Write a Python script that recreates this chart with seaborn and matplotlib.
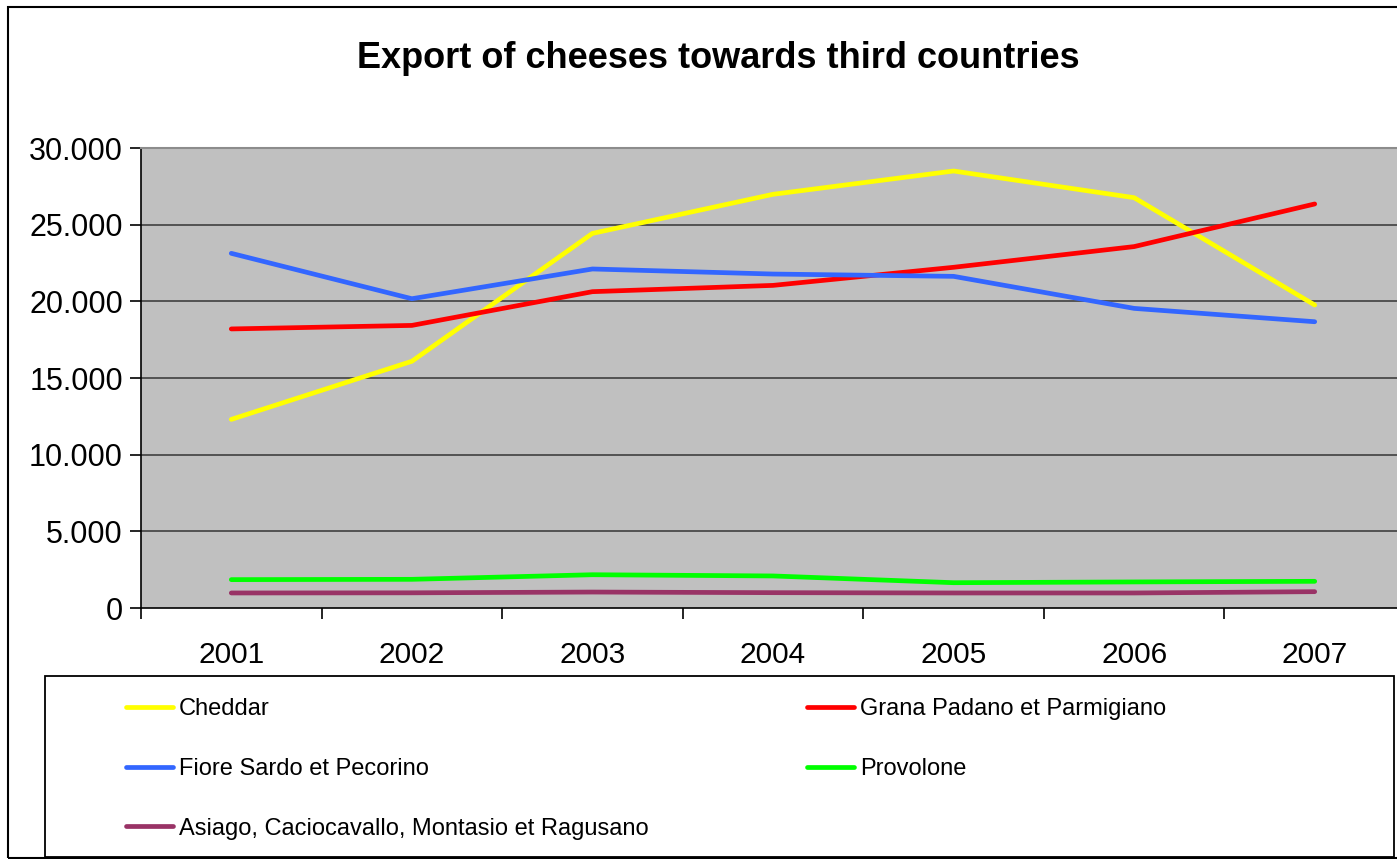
import matplotlib
matplotlib.use("Agg")
import matplotlib.pyplot as plt
import seaborn as sns
import pandas as pd
from matplotlib import font_manager
from matplotlib.lines import Line2D
from matplotlib.patches import Rectangle
from matplotlib.ticker import FuncFormatter, FixedLocator

# ---- data ----
years = ["2001", "2002", "2003", "2004", "2005", "2006", "2007"]
cheddar = [12300, 16090, 24430, 26980, 28500, 26760, 19760]
grana = [18200, 18430, 20630, 21040, 22220, 23570, 26350]
fiore = [23130, 20170, 22110, 21780, 21630, 19540, 18670]
provolone = [1850, 1870, 2170, 2090, 1650, 1700, 1740]
asiago = [980, 990, 1040, 1000, 980, 980, 1065]

series_names = ["Cheddar", "Grana Padano et Parmigiano", "Fiore Sardo et Pecorino",
                "Provolone", "Asiago, Caciocavallo, Montasio et Ragusano"]
series_values = [cheddar, grana, fiore, provolone, asiago]
colors = ["#FFFF00", "#FF0000", "#3366FF", "#00FF00", "#993366"]
title = "Export of cheeses towards third countries"

rows = []
for name, vals in zip(series_names, series_values):
    for i, (y, v) in enumerate(zip(years, vals)):
        rows.append({"idx": i, "year": y, "value": v, "series": name})
df = pd.DataFrame(rows)

sns.set_theme(style="white")
avail = {f.name for f in font_manager.fontManager.ttflist}
base = "Liberation Sans" if "Liberation Sans" in avail else "DejaVu Sans"
plt.rcParams["font.family"] = [base, "DejaVu Sans"]

W, H = 1397, 859
fig = plt.figure(figsize=(W / 100, H / 100), dpi=100)
fig.patch.set_facecolor("white")

# axes placement (pixel coords -> figure fractions)
left, right, top, bottom = 141, 1405, 148, 608
ax = fig.add_axes([left / W, 1 - bottom / H, (right - left) / W, (bottom - top) / H])
ax.set_facecolor("#C0C0C0")

LW = 3.4
sns.lineplot(data=df, x="idx", y="value", hue="series", hue_order=series_names,
             palette=dict(zip(series_names, colors)), linewidth=LW, ax=ax,
             legend=False, sort=False)
for ln in ax.get_lines():
    ln.set_solid_capstyle("round")
    ln.set_solid_joinstyle("round")

ax.set_xlim(-0.5, 6.5)
ax.set_ylim(0, 30000)
ax.set_xlabel("")
ax.set_ylabel("")

ax.yaxis.set_major_locator(FixedLocator([0, 5000, 10000, 15000, 20000, 25000, 30000]))
ax.yaxis.set_major_formatter(FuncFormatter(lambda v, p: f"{int(v):,}".replace(",", ".")))
ax.set_xticks(range(len(years)))
ax.set_xticklabels(years)
ax.set_xticks([i - 0.5 for i in range(len(years) + 1)], minor=True)

ax.tick_params(axis="x", which="major", length=0, pad=24, labelsize=21.5, colors="black")
ax.tick_params(axis="x", which="minor", length=8, width=1.2, color="black", direction="out")
ax.tick_params(axis="y", which="major", length=8, width=1.2, color="black",
               direction="out", labelsize=22, pad=5, colors="black")
ax.tick_params(left=True, bottom=True, which="both")

for y in [5000, 10000, 15000, 20000, 25000]:
    ax.axhline(y, color="#404040", lw=1.2, zorder=0.5)

ax.spines["left"].set_color("black")
ax.spines["left"].set_linewidth(1.2)
ax.spines["bottom"].set_color("black")
ax.spines["bottom"].set_linewidth(1.2)
ax.spines["top"].set_color("#8C8C8C")
ax.spines["top"].set_linewidth(1.5)
ax.spines["right"].set_visible(False)

fig.text(718 / W, 1 - 59 / H, title, ha="center", va="center",
         fontsize=26, fontweight="bold", color="black")

# outer chart border
fig.add_artist(Rectangle((8 / W, 1 - 858 / H), (W + 10 - 8) / W, (858 - 7) / H,
                         transform=fig.transFigure, fill=False, edgecolor="black",
                         lw=1.5, clip_on=False))
# legend box
fig.add_artist(Rectangle((45 / W, 1 - 857 / H), (1394 - 45) / W, (857 - 676) / H,
                         transform=fig.transFigure, fill=False, edgecolor="black",
                         lw=1.3, clip_on=False))

order = [0, 2, 4, 1, 3]
handles = [Line2D([0], [0], color=colors[i], lw=LW, solid_capstyle="round")
           for i in order]
labels = [series_names[i] for i in order]
leg = fig.legend(handles, labels, ncol=2, loc="upper left",
                 bbox_to_anchor=(126 / W, 1 - 698 / H), frameon=False,
                 prop={"size": 17}, handlelength=2.0, handletextpad=0.25,
                 labelspacing=1.6, columnspacing=6.7, borderaxespad=0, borderpad=0)
for t in leg.get_texts():
    t.set_color("black")

fig.savefig("out.png", dpi=100, facecolor="white")
